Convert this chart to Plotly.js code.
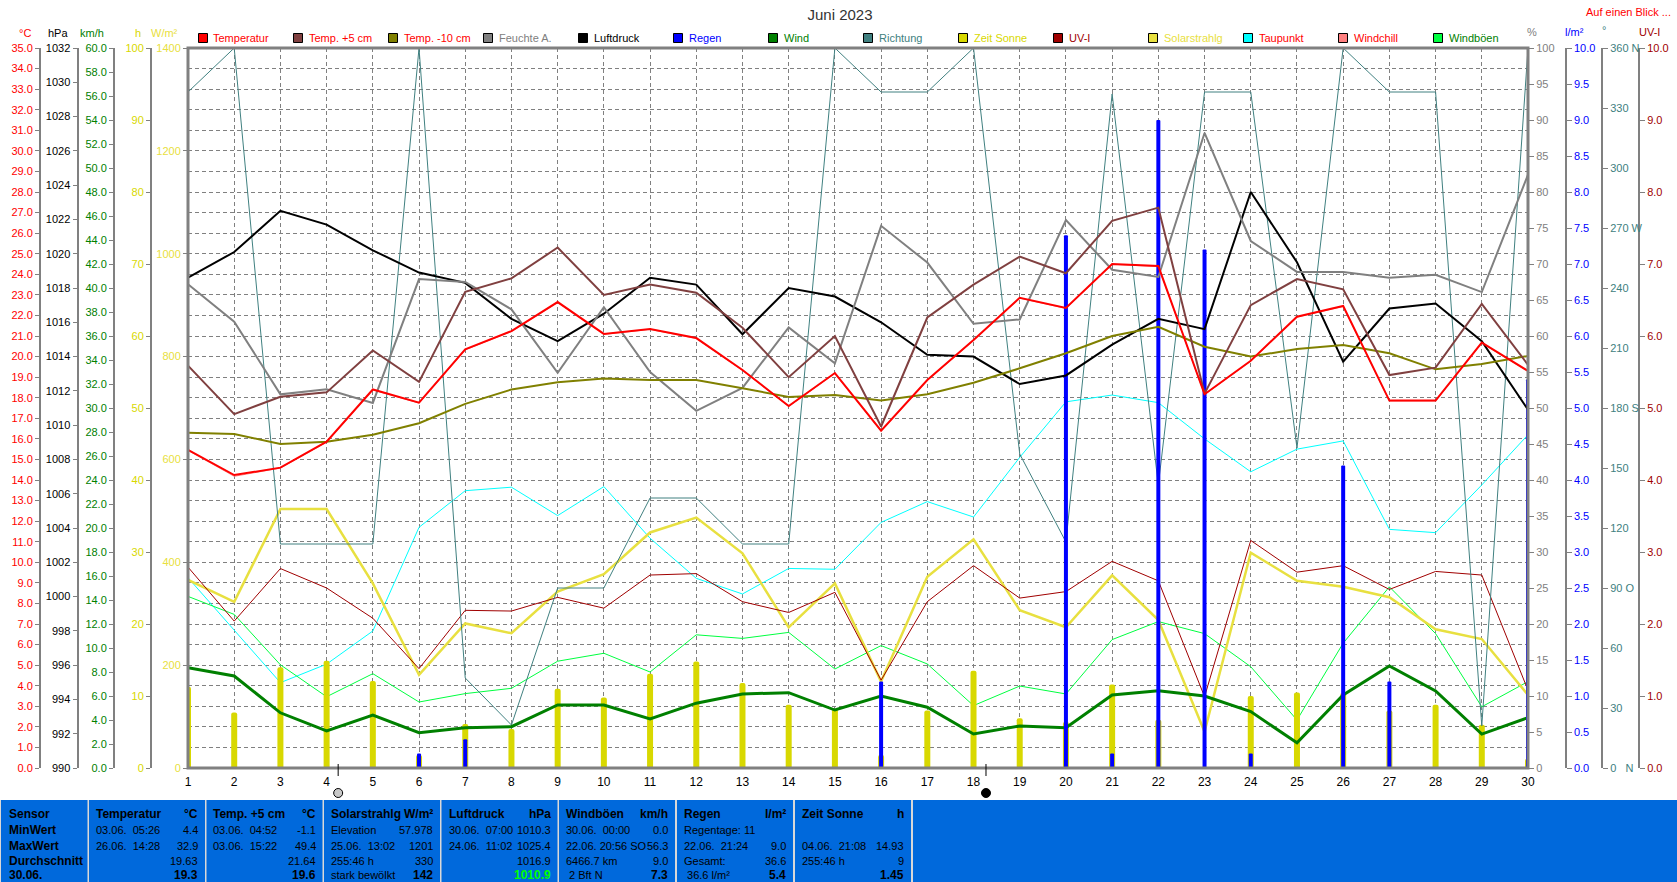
<!DOCTYPE html>
<html>
<head>
<meta charset="utf-8">
<script src="https://cdn.plot.ly/plotly-3.0.1.min.js"></script>
<style>html,body{margin:0;padding:0;background:#fff}#chart{width:1677px;height:882px}</style>
</head>
<body>
<div id="chart"></div>
<script>
// ---- data ----
const days = [1,2,3,4,5,6,7,8,9,10,11,12,13,14,15,16,17,18,19,20,21,22,23,24,25,26,27,28,29,30];
const temperatur = [15.46,14.24,14.6,15.86,18.4,17.76,20.35,21.24,22.65,21.1,21.34,20.9,19.35,17.6,19.2,16.4,18.86,20.8,22.86,22.36,24.5,24.4,18.17,19.8,21.94,22.46,17.86,17.86,20.68,19.3];
const tempPlus5 = [19.56,17.2,18.05,18.26,20.3,18.77,23.15,23.8,25.3,23.0,23.5,23.1,21.4,19.0,21.0,16.6,21.9,23.5,24.86,24.05,26.6,27.24,18.2,22.5,23.77,23.27,19.1,19.46,22.56,19.6];
const tempMinus10 = [16.3,16.24,15.75,15.86,16.2,16.76,17.7,18.4,18.75,18.93,18.86,18.86,18.46,18.04,18.13,17.86,18.17,18.73,19.43,20.16,21.0,21.45,20.48,20.0,20.37,20.56,20.16,19.38,19.64,20.03];
const feuchte = [67.2,62.0,51.9,52.6,50.7,67.9,67.5,63.7,54.9,64.0,55.0,49.6,52.8,61.2,56.2,75.3,70.2,61.7,62.3,76.1,69.2,68.2,88.2,73.2,68.9,68.9,68.1,68.5,66.1,82.4];
const luftdruck = [1018.6,1020.1,1022.5,1021.7,1020.2,1018.9,1018.3,1016.2,1014.9,1016.5,1018.6,1018.2,1015.3,1018.0,1017.5,1016.0,1014.1,1014.0,1012.4,1012.9,1014.7,1016.2,1015.6,1023.6,1019.5,1013.7,1016.8,1017.1,1014.9,1010.9];
const regen = [0,0,0,0,0,0.2,0.4,0,0,0,0,0,0,0,0,1.2,0,0,0,7.4,0.2,9.0,7.2,0.2,0,4.2,1.2,0,0,5.4];
const wind = [8.36,7.67,4.6,3.1,4.4,2.94,3.36,3.44,5.25,5.25,4.08,5.4,6.17,6.28,4.83,6.0,5.06,2.83,3.5,3.36,6.08,6.44,6.0,4.7,2.1,6.08,8.5,6.42,2.83,4.2];
const richtung = [338,360,112,112,112,360,45,21.5,90,90,135,135,112,112,360,338,338,360,157,113,337,141.5,338,338,160,360,338,338,21,360];
const zeitSonne = [11.3,7.7,14.0,14.9,12.1,1.8,6.1,5.4,11.0,9.8,13.1,14.8,11.8,8.8,8.2,1.8,8.0,13.5,6.9,6.4,11.6,6.7,0,10.0,10.5,10.4,8.0,8.8,6.0,1.3];
const uvIndex = [2.79,2.04,2.77,2.5,2.08,1.38,2.19,2.18,2.37,2.22,2.68,2.7,2.31,2.16,2.44,1.22,2.31,2.81,2.36,2.45,2.87,2.6,0.99,3.16,2.72,2.81,2.48,2.73,2.68,1.08];
const solar = [365.6,323,503.6,503.6,359,181,281,262,343,377,458,487,417.5,273.6,359,168,372,444.7,307,273.6,374.7,287.8,70.6,418.7,364,352.5,332,269.7,250.8,142];
const taupunkt = [9.25,6.7,4.15,5.05,6.66,11.7,13.48,13.65,12.27,13.68,11.17,9.22,8.46,9.7,9.66,11.94,12.95,12.2,15.1,17.8,18.13,17.76,16.0,14.4,15.5,15.9,11.6,11.44,13.76,16.2];
const windchill = [15.44,14.18,14.58,15.84,18.38,17.74,20.33,21.22,22.63,21.08,21.32,20.88,19.33,17.58,19.18,16.38,18.84,20.78,22.84,22.34,24.48,24.38,18.15,19.78,21.92,22.44,17.84,17.84,20.66,19.28];
const windboeen = [14.3,12.8,8.6,5.94,7.86,5.5,6.2,6.64,8.9,9.56,8.0,11.1,10.8,11.3,8.25,10.2,8.67,5.2,6.83,6.17,10.7,12.2,11.2,8.44,4.0,10.4,15.1,11.2,5.1,7.2];

const legendNames = ["Temperatur","Temp. +5 cm","Temp. -10 cm","Feuchte A.","Luftdruck","Regen","Wind","Richtung","Zeit Sonne","UV-I","Solarstrahlg","Taupunkt","Windchill","Windböen"];
const legendFill = ["#ff0000","#804040","#808000","#808080","#000000","#0000ff","#008000","#408080","#d8d800","#a00000","#e8e040","#00ffff","#ff8080","#00ff40"];
const legendText = ["#ff0000","#ff0000","#ff0000","#808080","#000000","#0000ff","#008000","#408080","#d8d800","#a00000","#e8e040","#ff0000","#ff0000","#008000"];

const richtungTicks = [0,30,60,90,120,150,180,210,240,270,300,330,360];
const richtungLabels = ["0\u00a0\u00a0\u00a0N","30","60","90\u00a0O","120","150","180\u00a0S","210","240","270\u00a0W","300","330","360\u00a0N"];

const panelHeaders = [["Temperatur","°C"],["Temp. +5 cm","°C"],["Solarstrahlg","W/m²"],["Luftdruck","hPa"],["Windböen","km/h"],["Regen","l/m²"],["Zeit Sonne","h"]];
const panelRowNames = ["Sensor","MinWert","MaxWert","Durchschnitt","30.06."];
const panelLeft = [
 ["03.06.  05:26","26.06.  14:28","",""],
 ["03.06.  04:52","03.06.  15:22","",""],
 ["Elevation","25.06.  13:02","255:46 h","stark bewölkt"],
 ["30.06.  07:00","24.06.  11:02","",""],
 ["30.06.  00:00","22.06. 20:56 SO","6466.7 km"," 2 Bft N"],
 ["Regentage: 11","22.06.  21:24","Gesamt:"," 36.6 l/m²"],
 ["","04.06.  21:08","255:46 h",""]
];
const panelRight = [
 ["4.4","32.9","19.63","19.3"],
 ["-1.1","49.4","21.64","19.6"],
 ["57.978","1201","330","142"],
 ["1010.3","1025.4","1016.9","1010.9"],
 ["0.0","56.3","9.0","7.3"],
 ["","9.0","36.6","5.4"],
 ["","14.93","9","1.45"]
];

// ---- page geometry (px) ----
const W = 1677, H = 882, L = 188, R = 1528, T = 48, B = 768;
const FONT = '"Liberation Sans", Arial, sans-serif';
const px = v => v / W, py = v => 1 - v / H;
const GRAY = '#808080';
const dom = [py(B), py(T)];

function yAxis(pos, side, range, dtick, color, extra) {
  return Object.assign({
    domain: dom, anchor: 'free', position: px(pos), overlaying: 'y', side: side, range: range, dtick: dtick,
    showgrid: false, zeroline: false, showline: true, linecolor: GRAY, linewidth: 2,
    ticks: 'outside', ticklen: side === 'left' ? 4 : 5, tickcolor: GRAY, tickwidth: 1,
    tickfont: {family: FONT, size: 11, color: color}, automargin: false
  }, extra || {});
}
const hidden = (range) => ({domain: dom, overlaying: 'y', anchor: 'x', range: range, visible: false});

const lineTrace = (y, axis, color, width) => ({type: 'scatter', mode: 'lines', x: days, y: y, yaxis: axis, line: {color: color, width: width}, hoverinfo: 'skip', showlegend: false});
const barTrace = (y, axis, color, barPx, radius) => ({type: 'bar', x: days, y: y, yaxis: axis, width: days.map(() => barPx / ((R - L) / 29)), marker: {color: color, cornerradius: radius, line: {width: 0}}, hoverinfo: 'skip', showlegend: false});

const traces = [
  lineTrace(windchill, 'y', '#ff8080', 1),
  lineTrace(taupunkt, 'y', '#00ffff', 1),
  lineTrace(windboeen, 'y2', '#00ff40', 1),
  lineTrace(solar, 'y3', '#e8e040', 2.5),
  lineTrace(uvIndex, 'y4', '#a00000', 1),
  barTrace(zeitSonne, 'y5', '#d8d800', 6, 2),
  lineTrace(richtung, 'y6', '#408080', 1),
  lineTrace(wind, 'y7', '#008000', 3),
  barTrace(regen, 'y8', '#0000ff', 4, 1),
  lineTrace(luftdruck, 'y9', '#000000', 2),
  lineTrace(feuchte, 'y10', '#808080', 2),
  lineTrace(tempMinus10, 'y11', '#808000', 2),
  lineTrace(tempPlus5, 'y11', '#804040', 2),
  lineTrace(temperatur, 'y11', '#ff0000', 2)
];

// ---- annotations and shapes ----
const annotations = [];
function label(text, x, y, color, size, anchor, bold) {
  annotations.push({
    xref: 'paper', yref: 'paper', x: px(x), y: py(y), text: bold ? '<b>' + text + '</b>' : text.replace(/ {2}/g, '&nbsp;&nbsp;'),
    showarrow: false, xanchor: anchor || 'left', yanchor: 'middle', borderpad: 0,
    font: {family: FONT, size: size || 11, color: color || '#000'}
  });
}
const shapes = [];
function box(x0, y0, x1, y1, fill, lineColor, lw) {
  shapes.push({type: 'rect', xref: 'paper', yref: 'paper', x0: px(x0), x1: px(x1), y0: py(y0), y1: py(y1), fillcolor: fill, line: {color: lineColor || fill, width: lw === undefined ? 0 : lw}, layer: 'above'});
}

// plot frame
shapes.push({type: 'rect', xref: 'paper', yref: 'paper', x0: px(L), x1: px(R), y0: py(B), y1: py(T), line: {color: GRAY, width: 3}, layer: 'above'});

// axis unit captions
label('°C', 25, 33, '#ff0000', 11, 'center');
label('hPa', 58, 33, '#000', 11, 'center');
label('km/h', 92, 33, '#008000', 11, 'center');
label('h', 138, 33, '#d8d800', 11, 'center');
label('W/m²', 164, 33, '#e8e040', 11, 'center');
label('%', 1532, 32, GRAY, 11, 'center');
label('l/m²', 1574, 32, '#0000ff', 11, 'center');
label('°', 1604, 30, '#408080', 11, 'center');
label('UV-I', 1649, 32, '#a00000', 11, 'center');
label('Auf einen Blick ...', 1672, 12, '#ff0000', 11, 'right');

// legend row
legendNames.forEach((n, i) => {
  const cx = 203 + 95 * i;
  box(cx - 4.5, 33.5, cx + 4.5, 42.5, legendFill[i], '#000', 1);
  label(n, cx + 9.5, 38, legendText[i], 11);
});

// moon markers
[[4.25, '#c8c8c8'], [18.27, '#000000']].forEach(([d, c]) => {
  shapes.push({type: 'line', xref: 'x', yref: 'paper', x0: d, x1: d, y0: py(764), y1: py(776), line: {color: '#000', width: 1}, layer: 'above'});
  shapes.push({type: 'circle', xref: 'x', yref: 'paper', xsizemode: 'pixel', ysizemode: 'pixel', xanchor: d, yanchor: py(793), x0: -4.5, x1: 4.5, y0: -4.5, y1: 4.5, fillcolor: c, line: {color: '#000', width: 1}, layer: 'above'});
});

// statistic panel
box(0, 800, 1677, 882, '#d8d8d8');
const BLUE = '#0069dc';
const boxStarts = [89, 206.5, 324, 441.5, 559, 677, 795];
box(1, 800, 87.5, 882, BLUE);
box(913, 800, 1677, 882, BLUE);
const rowY = [814, 830, 846, 861, 874.5];
panelRowNames.forEach((n, r) => label(n, 8, rowY[r], '#000', 12, 'left', true));
panelHeaders.forEach((h, c) => {
  const x0 = boxStarts[c];
  box(x0, 800, x0 + 116, 882, BLUE);
  label(h[0], x0 + 6, rowY[0], '#000', 12, 'left', true);
  label(h[1], x0 + 110, rowY[0], '#000', 12, 'right', true);
  panelLeft[c].forEach((t, r) => { if (t) label(t, x0 + 6, rowY[r + 1], '#000', 11, 'left'); });
  panelRight[c].forEach((t, r) => {
    if (!t) return;
    const last = r === 3;
    const color = (last && c === 3) ? '#00ff00' : '#000';
    label(t, x0 + 110, rowY[r + 1], color, last ? 12 : 11, 'right', last);
  });
});

const layout = {
  width: W, height: H, margin: {l: 0, r: 0, t: 0, b: 0, pad: 0},
  paper_bgcolor: '#fff', plot_bgcolor: '#fff', showlegend: false, barmode: 'overlay',
  title: {text: 'Juni 2023', x: 840 / W, xanchor: 'center', y: py(15), yanchor: 'middle', font: {family: FONT, size: 15, color: '#333'}},
  xaxis: {
    domain: [px(L), px(R)], range: [1, 30], dtick: 1, tick0: 1, anchor: 'y', side: 'bottom',
    showgrid: true, gridcolor: GRAY, griddash: '4px,3px', gridwidth: 1, zeroline: false, showline: false,
    ticks: 'outside', ticklen: 3, tickcolor: 'rgba(0,0,0,0)', tickfont: {family: FONT, size: 12, color: '#000'}
  },
  yaxis: {
    domain: dom, anchor: 'free', position: px(40), side: 'left', range: [0, 35], dtick: 1, tickformat: '.1f',
    showgrid: true, gridcolor: GRAY, griddash: '4px,3px', gridwidth: 1, zeroline: false,
    showline: true, linecolor: GRAY, linewidth: 2, ticks: 'outside', ticklen: 4, tickcolor: GRAY,
    tickfont: {family: FONT, size: 11, color: '#ff0000'}
  },
  yaxis2: yAxis(114, 'left', [0, 60], 2, '#008000', {tickformat: '.1f'}),
  yaxis3: yAxis(L, 'left', [0, 1400], 200, '#e8e040'),
  yaxis4: yAxis(1639, 'right', [0, 10], 1, '#a00000', {tickformat: '.1f'}),
  yaxis5: yAxis(151, 'left', [0, 100], 10, '#d8d800'),
  yaxis6: yAxis(1602, 'right', [0, 360], 30, '#408080', {tickvals: richtungTicks, ticktext: richtungLabels, tickmode: 'array'}),
  yaxis7: hidden([0, 60]),
  yaxis8: yAxis(1565.7, 'right', [0, 10], 0.5, '#0000ff', {tickformat: '.1f'}),
  yaxis9: yAxis(77.5, 'left', [990, 1032], 2, '#000000'),
  yaxis10: yAxis(R, 'right', [0, 100], 5, GRAY),
  yaxis11: hidden([0, 35]),
  shapes: shapes,
  annotations: annotations
};

Plotly.newPlot('chart', traces, layout, {displayModeBar: false, staticPlot: true});
</script>
</body>
</html>
